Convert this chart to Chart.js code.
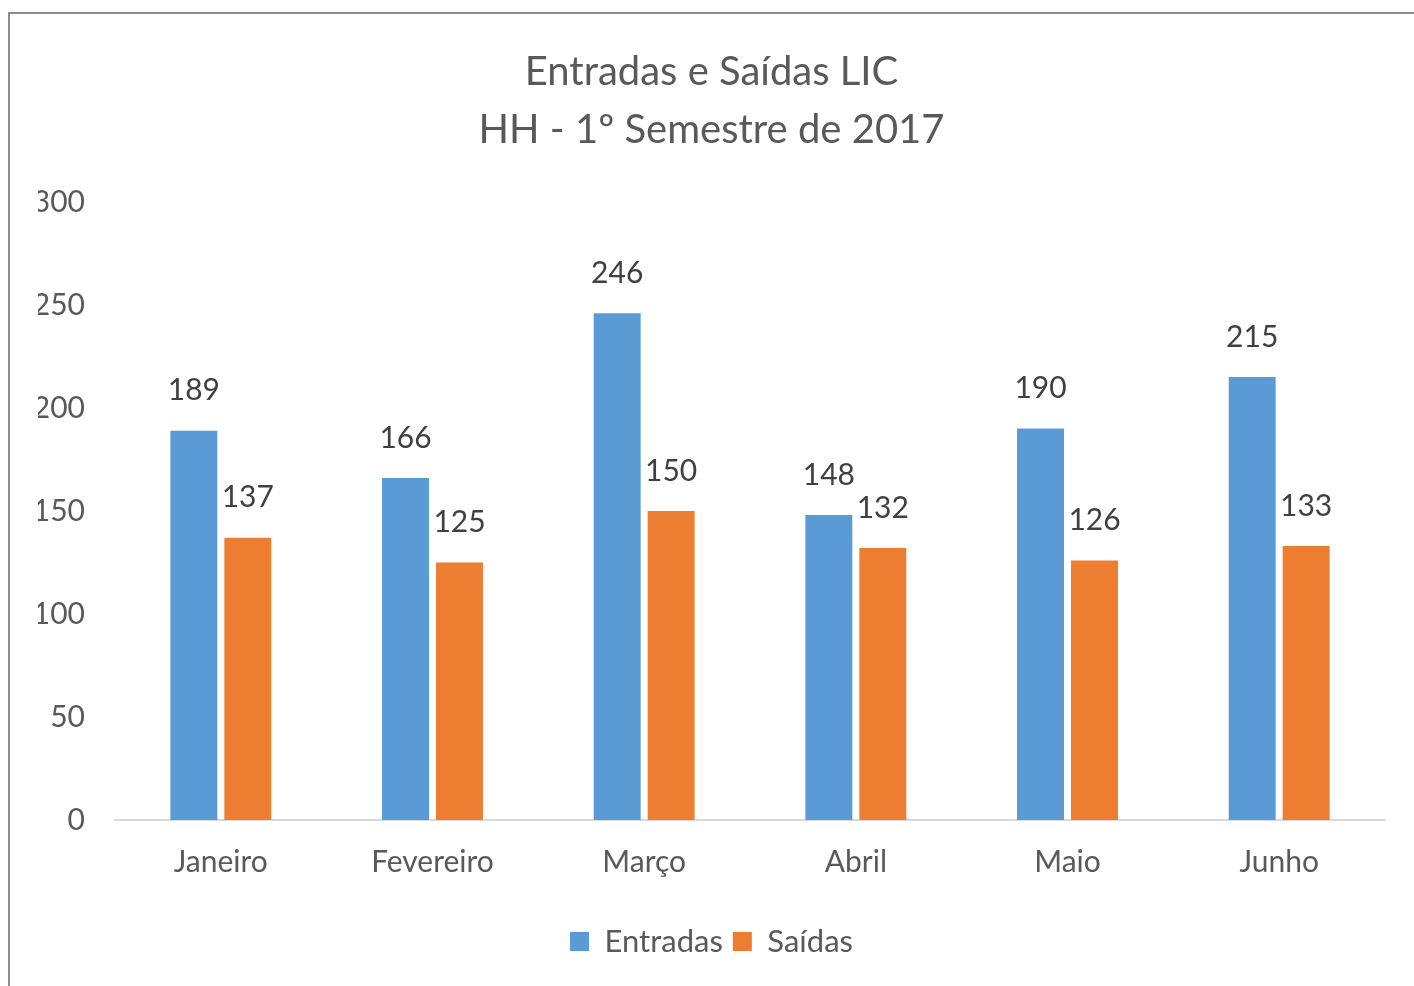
<!DOCTYPE html>
<html>
<head>
<meta charset="utf-8">
<script src="https://cdn.jsdelivr.net/npm/chart.js@4"></script>
<style>
  html, body { margin: 0; padding: 0; background: #fff; }
  #wrap { position: relative; width: 1414px; height: 986px; overflow: hidden; }
  #frame { position: absolute; left: 8px; top: 12px; width: 1420px; height: 1000px;
           border-left: 2px solid #8c8c8c; border-top: 2px solid #8c8c8c; pointer-events: none; }
  canvas { position: absolute; left: 0; top: 0; }
</style>
</head>
<body>
<div id="wrap">
  <canvas id="chart" width="1414" height="986"></canvas>
  <div id="frame"></div>
</div>
<script>
// values
const months = ['Janeiro', 'Fevereiro', 'Março', 'Abril', 'Maio', 'Junho'];
const entradas = [189, 166, 246, 148, 190, 215];
const saidas = [137, 125, 150, 132, 126, 133];
const titleLines = ['Entradas e Saídas LIC', 'HH - 1º Semestre de 2017'];

const textColor = '#595959';
const fontFamily = 'Lato, "Open Sans", sans-serif';

// draws the value above each bar, like Excel data labels
const valueLabels = {
  id: 'valueLabels',
  afterDatasetsDraw(chart) {
    const ctx = chart.ctx;
    ctx.save();
    ctx.font = '30px ' + fontFamily;
    ctx.fillStyle = '#404040';
    ctx.textAlign = 'center';
    ctx.textBaseline = 'middle';
    chart.data.datasets.forEach((ds, i) => {
      chart.getDatasetMeta(i).data.forEach((bar, j) => {
        ctx.fillText(String(ds.data[j]), bar.x, bar.y - 40);
      });
    });
    ctx.restore();
  }
};

new Chart(document.getElementById('chart').getContext('2d'), {
  type: 'bar',
  data: {
    labels: months,
    datasets: [
      { label: 'Entradas', data: entradas, backgroundColor: '#5B9BD5',
        categoryPercentage: 0.51, barPercentage: 0.87 },
      { label: 'Saídas', data: saidas, backgroundColor: '#ED7D31',
        categoryPercentage: 0.51, barPercentage: 0.87 }
    ]
  },
  options: {
    responsive: false,
    animation: false,
    layout: { padding: { left: 38, right: 29, top: 43, bottom: 19 } },
    plugins: {
      title: {
        display: true,
        text: titleLines,
        color: textColor,
        font: { family: fontFamily, size: 40, weight: 'normal', lineHeight: 1.45 },
        padding: { top: 0, bottom: 43 }
      },
      legend: {
        position: 'bottom',
        labels: {
          color: textColor,
          font: { family: fontFamily, size: 31 },
          boxWidth: 19,
          boxHeight: 19,
          padding: 10
        }
      },
      tooltip: { enabled: false }
    },
    scales: {
      x: {
        grid: { display: false, drawTicks: false },
        border: { display: true, color: '#d9d9d9', width: 2 },
        ticks: { color: textColor, font: { family: fontFamily, size: 30 }, padding: 24 },
        afterFit(scale) { scale.height = 96; }
      },
      y: {
        min: 0,
        max: 300,
        grid: { display: false, drawTicks: false },
        border: { display: false },
        ticks: { stepSize: 50, color: textColor, font: { family: fontFamily, size: 30 }, padding: 30 },
        afterFit(scale) { scale.width = 77; }
      }
    }
  },
  plugins: [valueLabels]
});
</script>
</body>
</html>
